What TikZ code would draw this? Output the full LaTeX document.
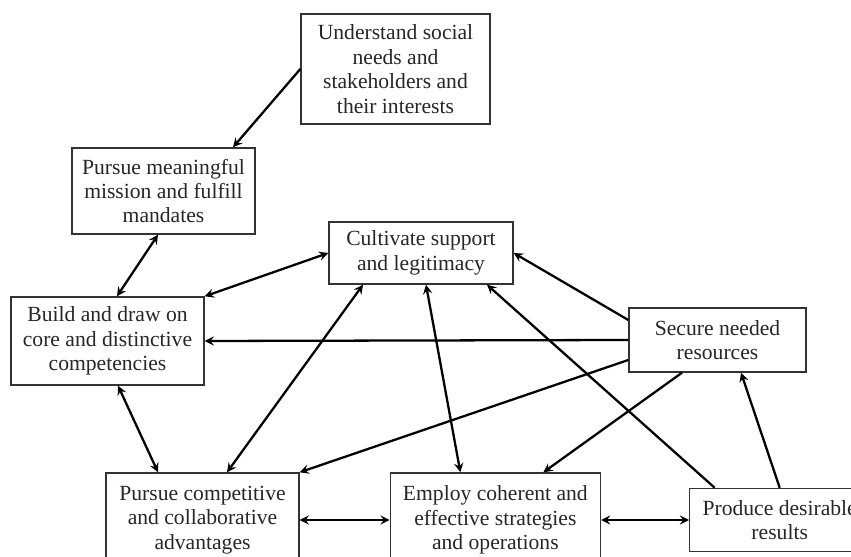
\documentclass[tikz,border=0pt]{standalone}
\usepackage{fontspec}
\setmainfont{Liberation Serif}
\usepackage{tikz}
\usetikzlibrary{arrows, positioning}
\tikzstyle{goal} = [rectangle, draw=black!80, line width=0.8pt, align=center, inner sep=2pt, text=black!85, font=\fontsize{12.3}{13.9}\selectfont]
\tikzstyle{arrow} = [line width=1.3pt,->,>=stealth]
\tikzstyle{twoway} = [line width=1.3pt,<->,>=stealth]

\begin{document}
\begin{tikzpicture}[x=0.02cm, y=0.02cm]
        \useasboundingbox (0,0) rectangle (851,557);

        \node (stakeholders) [goal, minimum width=3.78cm, minimum height=2.2cm] at (395.5,488) {Understand social\\needs and\\stakeholders and\\their interests};
        \node (mission) [goal, minimum width=3.66cm, minimum height=1.72cm] at (163.5,366) {Pursue meaningful\\mission and fulfill\\mandates};
        \node (support) [goal, minimum width=3.68cm, minimum height=1.24cm] at (421,304) {Cultivate support\\and legitimacy};
        \node (competencies) [goal, minimum width=3.86cm, minimum height=1.76cm] at (107.5,216) {Build and draw on\\core and distinctive\\competencies};
        \node (resources) [goal, minimum width=3.54cm, minimum height=1.28cm] at (717.5,217) {Secure needed\\resources};
        \node (advantages) [goal, minimum width=3.86cm, minimum height=1.88cm] at (202.5,37) {Pursue competitive\\and collaborative\\advantages};
        \node (strategies) [goal, minimum width=4.2cm, minimum height=1.88cm, right=1.8cm of advantages] {Employ coherent and\\effective strategies\\and operations};
        \node (results) [goal, minimum width=3.6cm, minimum height=1.26cm, right=1.76cm of strategies] {Produce desirable\\results};

        \draw [arrow] (stakeholders.west) -- ([xshift=1.39cm]mission.north);
        \draw [twoway] ([xshift=-0.11cm]mission.south) -- ([xshift=0.19cm]competencies.north);
        \draw [twoway] (competencies.north east) -- (support.west);
        \draw [arrow] (resources.west) -- (competencies.east);
        \draw [arrow] ([yshift=0.4cm]resources.west) -- (support.east);
        \draw [twoway] ([xshift=0.21cm]competencies.south) -- ([xshift=-0.89cm]advantages.north);
        \draw [twoway] ([xshift=0.49cm]advantages.north) -- ([xshift=-1.16cm]support.south);
        \draw [arrow] ([yshift=-0.4cm]resources.west) -- (advantages.north east);
        \draw [twoway] ([xshift=0.1cm]support.south) -- ([xshift=-0.7cm]strategies.north);
        \draw [arrow] ([xshift=-1.3cm]results.north) -- ([xshift=1.32cm]support.south);
        \draw [arrow] ([xshift=-0.71cm]resources.south) -- ([xshift=0.96cm]strategies.north);
        \draw [arrow] (results.north) -- ([xshift=0.47cm]resources.south);
        \draw [twoway] (advantages.east) -- (strategies.west);
        \draw [twoway] (strategies.east) -- (results.west);

\end{tikzpicture}
\end{document}
